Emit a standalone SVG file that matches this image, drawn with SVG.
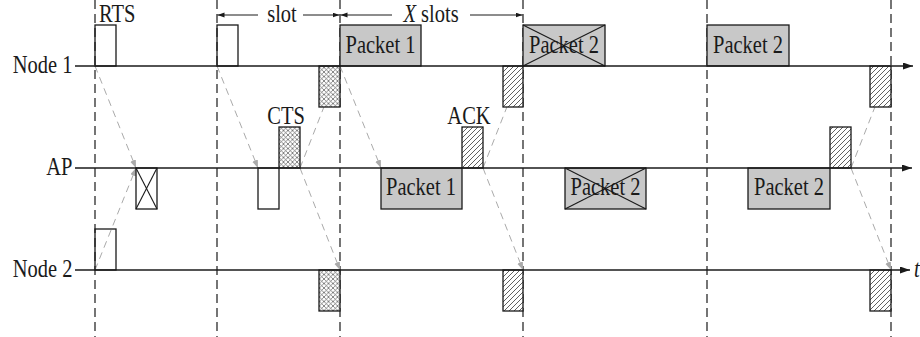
<svg xmlns="http://www.w3.org/2000/svg" width="920" height="337" viewBox="0 0 920 337">
<defs>
<style>
.lbl{font-family:'Liberation Serif','DejaVu Serif',serif;font-size:20.5px;fill:#1a1a1a}
.it{font-style:italic}
.ax{stroke:#1a1a1a;stroke-width:1.3;fill:none}
.vg{stroke:#666;stroke-width:1.8;stroke-dasharray:9 5;fill:none}
.vb{stroke:#1a1a1a;stroke-width:1.2;stroke-dasharray:9 5;fill:none}
.prop{stroke:#aaa;stroke-width:1;stroke-dasharray:7 5;fill:none;marker-end:url(#ga)}
.dim{stroke:#1a1a1a;stroke-width:1;fill:none;marker-end:url(#da)}
.box{stroke:#1a1a1a;stroke-width:1.3;fill:#fff}
.open{stroke:#1a1a1a;stroke-width:1.3;fill:none}
.pkt{stroke:#1a1a1a;stroke-width:1.3;fill:#c8c8c8}
.xh{stroke:#1a1a1a;stroke-width:1.3;fill:url(#cross)}
.dh{stroke:#1a1a1a;stroke-width:1.3;fill:url(#diag)}
.x{stroke:#1a1a1a;stroke-width:1.1}
</style>
<marker id="aa" markerUnits="userSpaceOnUse" markerWidth="11" markerHeight="8" refX="10" refY="3.5" orient="auto"><path d="M0,0 L10,3.5 L0,7 z" fill="#1a1a1a"/></marker>
<marker id="ga" markerUnits="userSpaceOnUse" markerWidth="9" markerHeight="7" refX="8" refY="3" orient="auto"><path d="M0,0 L8,3 L0,6 z" fill="#aaa"/></marker>
<marker id="da" markerUnits="userSpaceOnUse" markerWidth="8" markerHeight="6" refX="7" refY="2.5" orient="auto"><path d="M0,0 L7,2.5 L0,5 z" fill="#1a1a1a"/></marker>
<pattern id="cross" patternUnits="userSpaceOnUse" width="4.5" height="4.5"><rect width="4.5" height="4.5" fill="#fff"/><path d="M0,0 L4.5,4.5 M0,4.5 L4.5,0" stroke="#555" stroke-width="0.7"/></pattern>
<pattern id="diag" patternUnits="userSpaceOnUse" width="5" height="5"><rect width="5" height="5" fill="#fff"/><path d="M0,5 L5,0 M-1,1 L1,-1 M4,6 L6,4" stroke="#444" stroke-width="0.85"/></pattern>
</defs>
<rect width="920" height="337" fill="#fff"/>

<g id="timing">
<line class="vg" x1="95" y1="0" x2="95" y2="337"/>
<line class="vb" x1="217" y1="0" x2="217" y2="337"/>
<line class="vg" x1="340" y1="0" x2="340" y2="337"/>
<line class="vb" x1="523" y1="0" x2="523" y2="337"/>
<line class="vb" x1="707" y1="0" x2="707" y2="337"/>
<line class="vg" x1="891" y1="0" x2="891" y2="337"/>
<line class="dim" x1="258" y1="15" x2="217.5" y2="15"/>
<line class="dim" x1="303" y1="15" x2="339.5" y2="15"/>
<line class="dim" x1="392" y1="15" x2="340.5" y2="15"/>
<line class="dim" x1="470" y1="15" x2="522.5" y2="15"/>
<text class="lbl" text-anchor="middle" transform="translate(282,21.5) scale(1,1.18)">slot</text>
<text class="lbl" text-anchor="middle" transform="translate(431,21.5) scale(1,1.18)"><tspan class="it">X</tspan> slots</text>
</g>

<g id="connectors">
<line class="prop" x1="95" y1="66" x2="136" y2="168"/>
<line class="prop" x1="95" y1="270" x2="136" y2="168"/>
<line class="prop" x1="217" y1="66" x2="258" y2="168"/>
<line class="prop" x1="300" y1="168" x2="340" y2="66"/>
<line class="prop" x1="300" y1="168" x2="340" y2="270"/>
<line class="prop" x1="340" y1="66" x2="381" y2="168"/>
<line class="prop" x1="483" y1="168" x2="523" y2="66"/>
<line class="prop" x1="483" y1="168" x2="523" y2="270"/>
<line class="prop" x1="851" y1="168" x2="891" y2="66"/>
<line class="prop" x1="851" y1="168" x2="891" y2="270"/>
</g>

<g id="node1">
<rect class="open" x="95" y="25" width="21" height="41"/>
<rect class="open" x="217" y="25" width="21" height="41"/>
<rect class="pkt" x="340" y="25" width="81" height="41"/>
<rect class="pkt" x="523" y="25" width="82" height="41"/>
<rect class="pkt" x="707" y="25" width="82" height="41"/>
<rect class="xh" x="319" y="66" width="21" height="41"/>
<rect class="dh" x="503" y="66" width="20" height="41"/>
<rect class="dh" x="870" y="66" width="21" height="41"/>
<line class="ax" x1="75" y1="66" x2="913" y2="66" marker-end="url(#aa)"/>
<text class="lbl" text-anchor="end" transform="translate(72.5,72.5) scale(1,1.18)">Node 1</text>
<text class="lbl" transform="translate(99,21.5) scale(1,1.18)">RTS</text>
<text class="lbl" text-anchor="middle" transform="translate(380.5,53) scale(1,1.18)">Packet 1</text>
<text class="lbl" text-anchor="middle" transform="translate(564,53) scale(1,1.18)">Packet 2</text>
<line class="x" x1="523" y1="25" x2="605" y2="66"/>
<line class="x" x1="523" y1="66" x2="605" y2="25"/>
<text class="lbl" text-anchor="middle" transform="translate(748,53) scale(1,1.18)">Packet 2</text>
</g>

<g id="ap">
<rect class="box" x="136" y="168" width="21" height="41"/>
<line class="x" x1="136" y1="168" x2="157" y2="209"/>
<line class="x" x1="136" y1="209" x2="157" y2="168"/>
<rect class="box" x="258" y="168" width="21" height="41"/>
<rect class="xh" x="279" y="127" width="21" height="41"/>
<rect class="pkt" x="381" y="168" width="81" height="41"/>
<rect class="dh" x="462" y="127" width="21" height="41"/>
<rect class="pkt" x="565" y="168" width="81" height="41"/>
<rect class="pkt" x="748" y="168" width="82" height="41"/>
<rect class="dh" x="830" y="127" width="21" height="41"/>
<line class="ax" x1="75" y1="168" x2="912" y2="168" marker-end="url(#aa)"/>
<text class="lbl" text-anchor="end" transform="translate(72.5,175) scale(1,1.18)">AP</text>
<text class="lbl" text-anchor="middle" transform="translate(286,124) scale(1,1.18)">CTS</text>
<text class="lbl" text-anchor="middle" transform="translate(469,124) scale(1,1.18)">ACK</text>
<text class="lbl" text-anchor="middle" transform="translate(421,195) scale(1,1.18)">Packet 1</text>
<text class="lbl" text-anchor="middle" transform="translate(605.5,195) scale(1,1.18)">Packet 2</text>
<line class="x" x1="565" y1="168" x2="646" y2="209"/>
<line class="x" x1="565" y1="209" x2="646" y2="168"/>
<text class="lbl" text-anchor="middle" transform="translate(789,195) scale(1,1.18)">Packet 2</text>
</g>

<g id="node2">
<rect class="open" x="95" y="229" width="21" height="41"/>
<rect class="xh" x="319" y="270" width="21" height="41"/>
<rect class="dh" x="503" y="270" width="20" height="41"/>
<rect class="dh" x="870" y="270" width="21" height="41"/>
<line class="ax" x1="75" y1="270" x2="910" y2="270" marker-end="url(#aa)"/>
<text class="lbl" text-anchor="end" transform="translate(72.5,277) scale(1,1.18)">Node 2</text>
<text class="lbl it" transform="translate(914,277) scale(1,1.18)">t</text>
</g>
</svg>
